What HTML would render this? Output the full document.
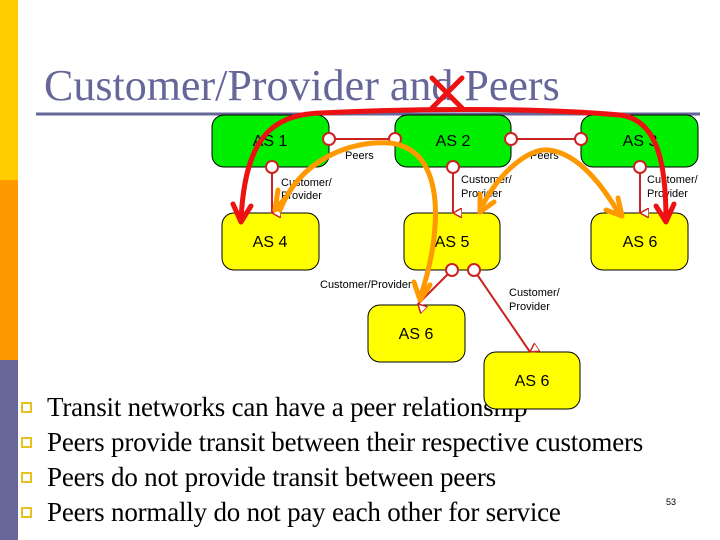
<!DOCTYPE html>
<html><head><style>
body{margin:0;width:720px;height:540px;overflow:hidden;background:#fff;position:relative;font-family:"Liberation Serif",serif}
.bar{position:absolute;left:0;width:18px}
.t{position:absolute;left:44px;top:60px;font-size:44px;color:#666699;white-space:nowrap}
.b{position:absolute;left:47px;font-size:27px;color:#000;white-space:nowrap;letter-spacing:-0.2px}
.sq{position:absolute;left:21px;width:7px;height:7px;border:2px solid #e8c020;background:#fff}
svg{position:absolute;left:0;top:0;z-index:2}
</style></head><body>
<div class="bar" style="top:0;height:180px;background:#ffcc00"></div>
<div class="bar" style="top:180px;height:180px;background:#ff9900"></div>
<div class="bar" style="top:360px;height:180px;background:#666699"></div>
<div class="t">Customer/Provider and Peers</div>
<div class="sq" style="top:402px"></div><div class="b" style="top:392px">Transit networks can have a peer relationship</div>
<div class="sq" style="top:437px"></div><div class="b" style="top:427px">Peers provide transit between their respective customers</div>
<div class="sq" style="top:472px"></div><div class="b" style="top:462px">Peers do not provide transit between peers</div>
<div class="sq" style="top:507px"></div><div class="b" style="top:497px">Peers normally do not pay each other for service</div>
<svg width="720" height="540" font-family="Liberation Sans,sans-serif">
<defs>
<marker id="ta" markerWidth="10" markerHeight="10" refX="5" refY="9" orient="auto-start-reverse" markerUnits="userSpaceOnUse"><path d="M0,0 L10,0 L5,9Z" fill="#fff" stroke="#cc2222" stroke-width="1.5"/></marker>
</defs>
<line x1="36" y1="114" x2="700" y2="114" stroke="#666699" stroke-width="3"/>
<g stroke="#000" stroke-width="1">
<rect x="212" y="115" width="117" height="52" rx="12" fill="#00ee00"/>
<rect x="395" y="115" width="116" height="52" rx="12" fill="#00ee00"/>
<rect x="581" y="115" width="117" height="52" rx="12" fill="#00ee00"/>
<rect x="222" y="213" width="97" height="57" rx="12" fill="#ffff00"/>
<rect x="404" y="213" width="96" height="57" rx="12" fill="#ffff00"/>
<rect x="591" y="213" width="97" height="57" rx="12" fill="#ffff00"/>
<rect x="368" y="305" width="97" height="57" rx="12" fill="#ffff00"/>
<rect x="484" y="352" width="96" height="57" rx="12" fill="#ffff00"/>
</g>
<g font-size="16" text-anchor="middle" fill="#000">
<text x="270" y="146">AS 1</text><text x="453" y="146">AS 2</text><text x="640" y="146">AS 3</text>
<text x="270" y="247">AS 4</text><text x="452" y="247">AS 5</text><text x="640" y="247">AS 6</text>
<text x="416" y="339">AS 6</text><text x="532" y="386">AS 6</text>
</g>
<g font-size="11" fill="#000">
<text x="345" y="159">Peers</text><text x="530" y="159">Peers</text>
<text x="281" y="186">Customer/</text><text x="281" y="199">Provider</text>
<text x="461" y="183">Customer/</text><text x="461" y="197">Provider</text>
<text x="647" y="183">Customer/</text><text x="647" y="197">Provider</text>
<text x="320" y="288">Customer/Provider</text>
<text x="509" y="296">Customer/</text><text x="509" y="310">Provider</text>
</g>
<g stroke="#cc2222" stroke-width="2" fill="none">
<line x1="329" y1="139" x2="395" y2="139"/><line x1="511" y1="139" x2="581" y2="139"/>
<line x1="272" y1="167" x2="272" y2="213" marker-end="url(#ta)"/>
<line x1="453" y1="167" x2="453" y2="213" marker-end="url(#ta)"/>
<line x1="640" y1="167" x2="640" y2="213" marker-end="url(#ta)"/>
<line x1="452" y1="270" x2="418" y2="304" marker-end="url(#ta)"/>
<line x1="474" y1="270" x2="530" y2="352" marker-end="url(#ta)"/>
</g>
<g stroke="#cc2222" stroke-width="2" fill="#fff">
<circle cx="329" cy="139" r="6"/><circle cx="395" cy="139" r="6"/><circle cx="511" cy="139" r="6"/><circle cx="581" cy="139" r="6"/>
<circle cx="272" cy="167" r="6"/><circle cx="453" cy="167" r="6"/><circle cx="640" cy="167" r="6"/>
<circle cx="452" cy="270" r="6"/><circle cx="474" cy="270" r="6"/>
</g>
<g stroke="#ff9900" stroke-width="5" fill="none" stroke-linecap="round">
<path d="M280,210 C300,160 350,140 390,143 C450,150 440,240 420,298"/>
<path d="M275,210 l3,-20 M275,210 l12,-14"/>
<path d="M420,300 l-6,-18 M420,300 l10,-15"/>
<path d="M480,210 C500,170 530,148 548,150 C580,153 605,190 620,215"/>
<path d="M480,212 l0,-18 M480,212 l14,-10"/>
<path d="M622,216 l-4,-18 M622,216 l-16,-6"/>
</g>
<g stroke="#ee1111" stroke-width="5" fill="none" stroke-linecap="round">
<path d="M241,220 C245,140 270,115 320,113 C420,108 540,108 620,115 C660,120 666,170 666,220"/>
<path d="M241,222 l-8,-18 M241,222 l10,-16"/>
<path d="M666,222 l-10,-16 M666,222 l8,-18"/>
<path d="M432,78 L462,108 M462,78 L432,108" stroke-width="5"/>
</g>
<text x="666" y="505" font-size="9" fill="#000">53</text>
</svg>
</body></html>
